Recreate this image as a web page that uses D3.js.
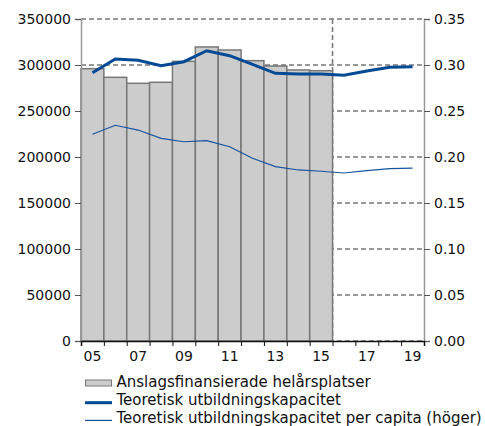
<!DOCTYPE html>
<html>
<head>
<meta charset="utf-8">
<script src="https://cdn.jsdelivr.net/npm/d3@7"></script>
<style>
  body { margin: 0; background: #fff; }
  svg { display: block; font-family: "DejaVu Sans", Verdana, sans-serif; }
</style>
</head>
<body>
<script>
const width = 485
const height = 426

// data
const years = d3.range(2005, 2020)
const barYears = d3.range(2005, 2016)
const platser = [296000, 286600, 280100, 281200, 304000, 319600, 316300, 304700, 298900, 294600, 293800]
const kapacitet = [291600, 306500, 305100, 299200, 303600, 315500, 310100, 300700, 291000, 290200, 290200, 288800, 293500, 297500, 298200]
const perCapita = [0.2247, 0.2345, 0.2293, 0.2203, 0.2166, 0.2177, 0.2112, 0.1986, 0.1895, 0.1859, 0.1845, 0.1826, 0.1851, 0.1873, 0.1880]
const leftTicks = [0, 50000, 100000, 150000, 200000, 250000, 300000, 350000]
const rightTicks = [0, 0.05, 0.1, 0.15, 0.2, 0.25, 0.3, 0.35]
const labelYears = [2005, 2007, 2009, 2011, 2013, 2015, 2017, 2019]
const legendItems = [
    "Anslagsfinansierade helårsplatser",
    "Teoretisk utbildningskapacitet",
    "Teoretisk utbildningskapacitet per capita (höger)"
]

const margin = { top: 19, right: 61, bottom: 85, left: 81 }
const x = d3.scaleLinear().domain([2004.5, 2019.5]).range([margin.left, width - margin.right])
const yL = d3.scaleLinear().domain([0, 350000]).range([height - margin.bottom, margin.top])
const yR = d3.scaleLinear().domain([0, 0.35]).range([height - margin.bottom, margin.top])

const svg = d3.select("body").append("svg")
    .attr("width", width)
    .attr("height", height)

// gridlines
svg.append("g")
    .selectAll("line")
    .data(rightTicks)
    .enter()
    .append("line")
    .attr("x1", x.range()[0])
    .attr("x2", x.range()[1])
    .attr("y1", d => yR(d))
    .attr("y2", d => yR(d))
    .attr("stroke", "#777")
    .attr("stroke-width", 1.5)
    .attr("stroke-dasharray", "5,3")

// forecast divider
svg.append("line")
    .attr("x1", x(2015.5))
    .attr("x2", x(2015.5))
    .attr("y1", yL(350000))
    .attr("y2", yL(0))
    .attr("stroke", "#777")
    .attr("stroke-width", 1.5)
    .attr("stroke-dasharray", "5,3")

// bars
svg.append("g")
    .selectAll("rect")
    .data(barYears)
    .enter()
    .append("rect")
    .attr("x", d => x(d - 0.5))
    .attr("width", d => x(d + 0.5) - x(d - 0.5))
    .attr("y", (d, i) => yL(platser[i]))
    .attr("height", (d, i) => yL(0) - yL(platser[i]))
    .attr("fill", "#cccccc")
    .attr("stroke", "#777")
    .attr("stroke-width", 1.5)

// lines
const lineL = d3.line().x((d, i) => x(years[i])).y(d => yL(d))
const lineR = d3.line().x((d, i) => x(years[i])).y(d => yR(d))

svg.append("path")
    .attr("d", lineR(perCapita))
    .attr("fill", "none")
    .attr("stroke", "#1753a0")
    .attr("stroke-width", 1.2)

svg.append("path")
    .attr("d", lineL(kapacitet))
    .attr("fill", "none")
    .attr("stroke", "#034a94")
    .attr("stroke-width", 3)

// axes
const leftAxis = svg.append("g")
    .attr("transform", `translate(${margin.left},0)`)
    .call(d3.axisLeft(yL).tickValues(leftTicks).tickSize(6).tickPadding(4).tickFormat(d3.format("d")))
const rightAxis = svg.append("g")
    .attr("transform", `translate(${width - margin.right},0)`)
    .call(d3.axisRight(yR).tickValues(rightTicks).tickSize(6).tickPadding(4).tickFormat(d3.format(".2f")))
const bottomAxis = svg.append("g")
    .attr("transform", `translate(0,${yL(0)})`)
    .call(d3.axisBottom(x).tickValues(d3.range(2004.5, 2020, 1)).tickSize(5).tickFormat(""))

for (const ax of [leftAxis, rightAxis]) {
    ax.select(".domain").attr("stroke", "#999").attr("stroke-width", 1.5)
    ax.selectAll(".tick line").attr("stroke", "#555")
    ax.selectAll("text").attr("font-size", 14).attr("fill", "#111").style("font-family", "DejaVu Sans")
}
bottomAxis.select(".domain").attr("stroke", "#111").attr("stroke-width", 1.5)
bottomAxis.selectAll(".tick line").attr("stroke", "#111")

svg.append("g")
    .selectAll("text")
    .data(labelYears)
    .enter()
    .append("text")
    .attr("x", d => x(d))
    .attr("y", yL(0) + 20)
    .attr("text-anchor", "middle")
    .attr("font-size", 14)
    .attr("fill", "#111")
    .text(d => String(d).slice(2))

// legend
const legend = svg.append("g")
    .attr("transform", "translate(85,382)")
const rows = legend.selectAll("g")
    .data(legendItems)
    .enter()
    .append("g")
    .attr("transform", (d, i) => `translate(0,${i * 17.7})`)

rows.filter((d, i) => i === 0)
    .append("rect")
    .attr("x", 0.5).attr("y", -2)
    .attr("width", 26).attr("height", 6)
    .attr("fill", "#cccccc").attr("stroke", "#777")

rows.filter((d, i) => i > 0)
    .append("line")
    .attr("x1", 0).attr("x2", 27)
    .attr("y1", 3).attr("y2", 3)
    .attr("stroke", (d, i) => i === 0 ? "#034a94" : "#1753a0")
    .attr("stroke-width", (d, i) => i === 0 ? 3 : 1.2)

rows.append("text")
    .attr("x", 31.5)
    .attr("y", 0)
    .attr("dy", "0.35em")
    .attr("font-size", 15)
    .attr("fill", "#111")
    .text(d => d)
</script>
</body>
</html>
